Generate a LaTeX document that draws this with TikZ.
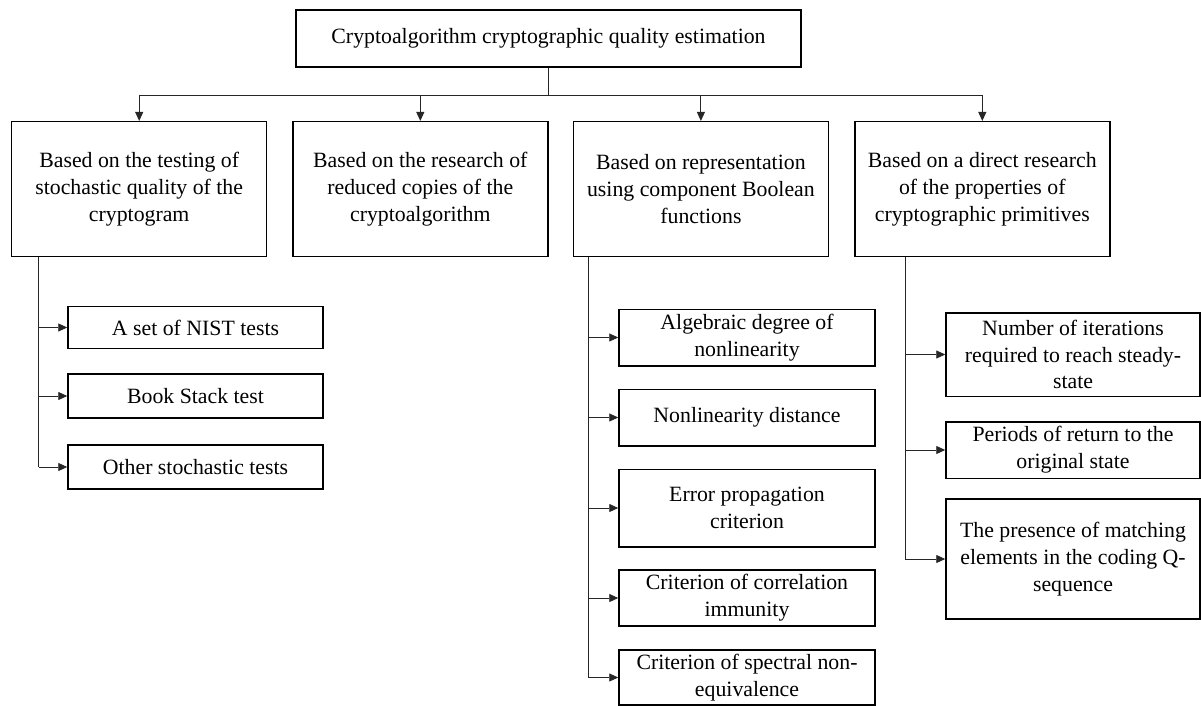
\documentclass[tikz,border=0pt]{standalone}
\usepackage{fontspec}
\setmainfont{Liberation Serif}
\usetikzlibrary{arrows.meta}
\begin{document}
\begin{tikzpicture}[x=1pt,y=-1pt,
  box/.style={draw, line width=1.5pt, align=center, inner sep=0pt, font=\fontsize{21.8}{26.7}\selectfont},
  conn/.style={line width=0.9pt, draw=black!85},
  arr/.style={conn, -{Triangle[length=9pt,width=8pt]}}]
\useasboundingbox (0,0) rectangle (1201,706);
% top
\node[box, minimum width=505pt, minimum height=57pt] (top) at (548.5,38.5) {Cryptoalgorithm cryptographic quality estimation};
% main boxes
\node[box, minimum width=255pt, minimum height=135pt] (b1) at (139.2,189.2) {Based on the testing of\\stochastic quality of the\\cryptogram};
\node[box, minimum width=255pt, minimum height=135pt] (b2) at (420.3,189.2) {Based on the research of\\reduced copies of the\\cryptoalgorithm};
\node[box, minimum width=255pt, minimum height=135pt] (b3) at (700.9,189.2) {Based on representation\\using component Boolean\\functions};
\node[box, minimum width=255pt, minimum height=135pt] (b4) at (982.3,189.2) {Based on a direct research\\of the properties of\\cryptographic primitives};
% left subs
\node[box, minimum width=255pt, minimum height=42pt] (s1) at (195.5,327.5) {A set of NIST tests};
\node[box, minimum width=255pt, minimum height=44pt] (s2) at (195.5,396) {Book Stack test};
\node[box, minimum width=255pt, minimum height=44pt] (s3) at (195.5,467) {Other stochastic tests};
% third subs
\node[box, minimum width=256pt, minimum height=56.5pt] (c1) at (747,337.5) {Algebraic degree of\\nonlinearity};
\node[box, minimum width=256pt, minimum height=56.5pt] (c2) at (747,417.5) {Nonlinearity distance};
\node[box, minimum width=256pt, minimum height=77.5pt] (c3) at (747,508) {Error propagation\\criterion};
\node[box, minimum width=256pt, minimum height=56pt] (c4) at (747,598) {Criterion of correlation\\immunity};
\node[box, minimum width=256pt, minimum height=55pt] (c5) at (747,677.5) {Criterion of spectral non-\\equivalence};
% fourth subs
\node[box, minimum width=254pt, minimum height=83.5pt] (d1) at (1073,354.5) {Number of iterations\\required to reach steady-\\state};
\node[box, minimum width=254pt, minimum height=56.5pt] (d2) at (1073,450) {Periods of return to the\\original state};
\node[box, minimum width=254pt, minimum height=120pt] (d3) at (1073,559) {The presence of matching\\elements in the coding Q-\\sequence};
% connectors top
\coordinate (hub) at (548.5,95);
\draw[conn] (top.south) -- (hub);
\draw[conn] (b1.north |- hub) -- (b4.north |- hub);
\foreach \b in {b1,b2,b3,b4} \draw[arr] (\b.north |- hub) -- (\b.north);
% branch coordinates
\path (b1.south west) ++(27.6,0) coordinate (t1);
\path (b3.south west) ++(15.5,0) coordinate (t3);
\path (b4.south west) ++(51,0) coordinate (t4);
\draw[conn] (t1) -- (t1 |- s3.west);
\foreach \s in {s1,s2,s3} \draw[arr] (t1 |- \s.west) -- (\s.west);
\draw[conn] (t3) -- (t3 |- c5.west);
\foreach \s in {c1,c2,c3,c4,c5} \draw[arr] (t3 |- \s.west) -- (\s.west);
\draw[conn] (t4) -- (t4 |- d3.west);
\foreach \s in {d1,d2,d3} \draw[arr] (t4 |- \s.west) -- (\s.west);
\end{tikzpicture}
\end{document}
